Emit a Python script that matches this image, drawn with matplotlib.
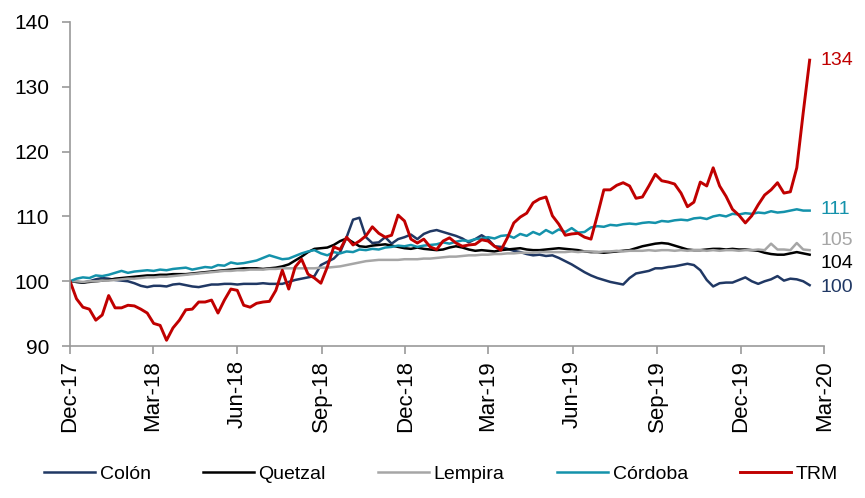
import numpy as np
import pandas as pd
import matplotlib
matplotlib.use("Agg")
import matplotlib.pyplot as plt
import matplotlib.dates as mdates

plt.rcParams["font.family"] = ["Liberation Sans", "DejaVu Sans"]

# weekly observations, index 100 = Dec-17
dates = pd.date_range("2017-12-01", periods=116, freq="7D")

colon = [100.0, 99.9, 99.8, 100.0, 100.3, 100.5, 100.4, 100.2, 100.1, 100.0,
         99.7, 99.3, 99.1, 99.3, 99.3, 99.2, 99.5, 99.6, 99.4, 99.2,
         99.1, 99.3, 99.5, 99.5, 99.6, 99.6, 99.5, 99.6, 99.6, 99.6,
         99.7, 99.6, 99.6, 99.6, 99.9, 100.2, 100.4, 100.6, 100.8, 102.5,
         103.0, 103.5, 104.5, 106.8, 109.5, 109.8, 106.8, 105.9, 106.0, 106.8,
         105.8, 106.5, 106.8, 107.2, 106.5, 107.3, 107.7, 107.9, 107.6, 107.3,
         107.0, 106.6, 106.0, 106.5, 107.1, 106.5, 105.4, 105.3, 105.0, 104.7,
         104.5, 104.2, 104.0, 104.1, 103.9, 104.0, 103.6, 103.1, 102.6, 102.0,
         101.4, 100.9, 100.5, 100.2, 99.9, 99.7, 99.5, 100.5, 101.2, 101.4,
         101.6, 102.0, 102.0, 102.2, 102.3, 102.5, 102.7, 102.5, 101.7, 100.2,
         99.2, 99.7, 99.8, 99.8, 100.2, 100.6, 100.0, 99.6, 100.0, 100.3,
         100.8, 100.1, 100.4, 100.3, 100.0, 99.4]

quetzal = [100.0, 99.9, 99.8, 99.9, 100.0, 100.1, 100.2, 100.4, 100.5, 100.6,
           100.7, 100.8, 100.9, 100.9, 101.0, 101.0, 101.1, 101.1, 101.1, 101.2,
           101.3, 101.4, 101.5, 101.6, 101.7, 101.8, 101.9, 102.0, 102.0, 102.0,
           101.9, 102.0, 102.1, 102.3, 102.6, 103.2, 103.8, 104.5, 105.0, 105.1,
           105.2, 105.6, 106.2, 106.6, 106.0, 105.4, 105.3, 105.5, 105.6, 105.7,
           105.5, 105.3, 105.1, 105.0, 105.2, 105.0, 104.9, 104.8, 104.9, 105.2,
           105.4, 105.2, 104.9, 104.7, 104.8, 104.7, 104.6, 104.8, 104.9, 105.0,
           105.1, 104.9, 104.8, 104.8, 104.9, 105.0, 105.1, 105.0, 104.9, 104.8,
           104.6, 104.5, 104.5, 104.4, 104.5, 104.6, 104.7, 104.8, 105.1, 105.4,
           105.6, 105.8, 105.9, 105.8, 105.5, 105.2, 104.9, 104.8, 104.8, 104.9,
           105.0, 105.0, 104.9, 105.0, 104.9, 104.9, 104.8, 104.7, 104.4, 104.2,
           104.1, 104.1, 104.3, 104.5, 104.3, 104.1]

lempira = [100.0, 100.0, 99.9, 100.0, 100.0, 100.1, 100.1, 100.2, 100.3, 100.4,
           100.4, 100.5, 100.6, 100.6, 100.7, 100.7, 100.8, 100.9, 101.0, 101.1,
           101.2, 101.3, 101.4, 101.5, 101.6, 101.6, 101.7, 101.7, 101.8, 101.8,
           101.8, 101.9, 101.9, 102.0, 102.0, 102.0, 102.0, 102.0, 102.0, 102.1,
           102.1, 102.2, 102.3, 102.5, 102.7, 102.9, 103.1, 103.2, 103.3, 103.3,
           103.3, 103.3, 103.4, 103.4, 103.4, 103.5, 103.5, 103.6, 103.7, 103.8,
           103.8, 103.9, 104.0, 104.0, 104.1, 104.1, 104.2, 104.2, 104.3, 104.3,
           104.4, 104.4, 104.4, 104.5, 104.5, 104.5, 104.5, 104.5, 104.6, 104.5,
           104.6, 104.6, 104.5, 104.6, 104.6, 104.7, 104.6, 104.7, 104.7, 104.7,
           104.8, 104.7, 104.8, 104.8, 104.7, 104.8, 104.7, 104.8, 104.8, 104.7,
           104.8, 104.7, 104.8, 104.8, 104.7, 104.8, 104.8, 104.9, 104.8, 105.8,
           104.9, 104.9, 104.8, 105.9, 104.9, 104.8]

cordoba = [100.0, 100.4, 100.6, 100.5, 100.9, 100.8, 101.0, 101.3, 101.6, 101.3,
           101.5, 101.6, 101.7, 101.6, 101.8, 101.7, 101.9, 102.0, 102.1, 101.8,
           102.0, 102.2, 102.1, 102.5, 102.4, 102.9, 102.7, 102.8, 103.0, 103.2,
           103.6, 104.0, 103.7, 103.4, 103.5, 103.9, 104.3, 104.6, 104.8, 104.3,
           104.0, 104.5, 104.3, 104.6, 104.5, 104.9, 104.8, 105.0, 104.9, 105.2,
           105.3, 105.5, 105.4, 105.6, 105.3, 105.5, 105.6, 105.7, 106.0, 105.8,
           106.1, 106.3, 106.2, 106.5, 106.6, 106.8, 106.6, 107.0, 107.1, 106.7,
           107.3, 107.0, 107.6, 107.2, 107.9, 107.4, 108.0, 107.6, 108.2, 107.5,
           107.6, 108.3, 108.5, 108.4, 108.7, 108.6, 108.8, 108.9, 108.8, 109.0,
           109.1, 109.0, 109.3, 109.2, 109.4, 109.5, 109.4, 109.7, 109.8, 109.6,
           110.0, 110.2, 110.0, 110.4, 110.3, 110.5, 110.4, 110.6, 110.5, 110.8,
           110.6, 110.7, 110.9, 111.1, 110.9, 110.9]

trm = [100.0, 97.3, 96.0, 95.7, 94.0, 94.8, 97.8, 95.9, 95.9, 96.3,
       96.2, 95.7, 95.1, 93.5, 93.2, 90.9, 92.8, 94.0, 95.6, 95.7,
       96.8, 96.8, 97.1, 95.1, 97.1, 98.8, 98.6, 96.3, 96.0, 96.6,
       96.8, 96.9, 98.6, 101.7, 98.8, 102.2, 103.4, 101.1, 100.5, 99.7,
       102.2, 105.3, 104.9, 106.8, 105.6, 106.2, 107.0, 108.4, 107.4, 106.8,
       107.1, 110.2, 109.3, 106.5, 105.9, 106.5, 105.3, 104.9, 106.2, 106.7,
       105.9, 105.4, 105.6, 105.7, 106.4, 106.2, 105.4, 104.8, 106.7, 109.0,
       109.9, 110.5, 112.1, 112.7, 113.0, 110.1, 108.8, 107.1, 107.3, 107.4,
       106.8, 106.5, 110.2, 114.1, 114.1, 114.8, 115.2, 114.7, 112.8, 113.0,
       114.7, 116.5, 115.5, 115.3, 115.0, 113.6, 111.5, 112.2, 115.3, 114.7,
       117.5, 114.7, 113.1, 111.1, 110.2, 109.0, 110.1, 111.8, 113.3, 114.1,
       115.2, 113.6, 113.8, 117.5, 126.0, 134.1]

names = ["Colón", "Quetzal", "Lempira", "Córdoba", "TRM"]
series = [colon, quetzal, lempira, cordoba, trm]
colors = ["#203864", "#000000", "#A6A6A6", "#1492AB", "#C00000"]
widths = [1.8, 1.8, 1.8, 1.8, 2.1]
end_text = ["100", "104", "105", "111", "134"]
end_y = [99.1, 102.8, 106.3, 111.0, 134.0]   # label positions (spread to avoid overlap)

fig = plt.figure(figsize=(8.65, 4.98), dpi=100)
ax = fig.add_axes([0.081, 0.305, 0.872, 0.651])

for name, vals, c, lw in zip(names, series, colors, widths):
    ax.plot(dates, vals, color=c, lw=lw, label=name)

for vals, c, txt, yy in zip(series, colors, end_text, end_y):
    ax.text(dates[-1] + pd.Timedelta(days=12), yy, txt, color=c,
            fontsize=14, va="center", ha="left")

ax.set_ylim(90, 140)
ax.set_yticks(np.arange(90, 141, 10))
ax.set_xlim(pd.Timestamp("2017-12-01"), pd.Timestamp("2020-03-01"))
ticks = pd.date_range("2017-12-01", "2020-03-01", freq="3MS")
ax.set_xticks(ticks)
ax.xaxis.set_major_formatter(mdates.DateFormatter("%b-%y"))
plt.setp(ax.get_xticklabels(), rotation=90)

for s in ("top", "right"):
    ax.spines[s].set_visible(False)
for s in ("left", "bottom"):
    ax.spines[s].set_color("#999999")
    ax.spines[s].set_linewidth(1.2)
ax.tick_params(axis="both", colors="#999999", length=6, width=1.2,
               labelcolor="black")
ax.tick_params(axis="y", labelsize=15, pad=9)
ax.tick_params(axis="x", labelsize=16, pad=4)

fig.legend(loc="lower center", bbox_to_anchor=(0.51, -0.005), ncol=5, frameon=False,
           fontsize=14, handlelength=2.6, handletextpad=0.25, columnspacing=2.7)

fig.savefig("out.png", dpi=100)
